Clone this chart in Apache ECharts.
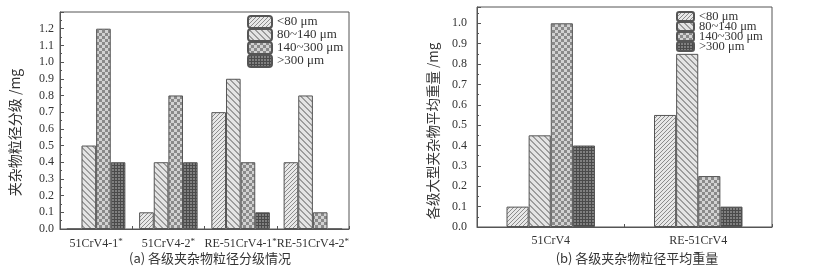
<!DOCTYPE html>
<html>
<head>
<meta charset="utf-8">
<script src="https://cdn.jsdelivr.net/npm/echarts@6/dist/echarts.min.js"></script>
<style>
  html, body { margin: 0; padding: 0; background: #fff; }
  #main { width: 818px; height: 270px; }
</style>
</head>
<body>
<div id="main"></div>
<script>
// data
var sizeNames = ['<80 μm', '80~140 μm', '140~300 μm', '>300 μm'];

var catsA = ['51CrV4-1*', '51CrV4-2*', 'RE-51CrV4-1*', 'RE-51CrV4-2*'];
var lt80A = [0, 0.1, 0.7, 0.4];
var s80to140A = [0.5, 0.4, 0.9, 0.8];
var s140to300A = [1.2, 0.8, 0.4, 0.1];
var gt300A = [0.4, 0.4, 0.1, 0];

var catsB = ['51CrV4', 'RE-51CrV4'];
var lt80B = [0.1, 0.55];
var s80to140B = [0.45, 0.85];
var s140to300B = [1.0, 0.25];
var gt300B = [0.4, 0.1];

var yMaxA = 1.3, yMaxB = 1.08, yStep = 0.1;

var serif = '"Liberation Serif", "DejaVu Serif", serif';
var cjk = '"Noto Sans CJK SC", sans-serif';

// small tiled fills for the hatched bars
function makePattern(size, bg, fg, test) {
  var c = document.createElement('canvas');
  c.width = size; c.height = size;
  var ctx = c.getContext('2d');
  ctx.fillStyle = bg;
  ctx.fillRect(0, 0, size, size);
  ctx.fillStyle = fg;
  for (var y = 0; y < size; y++) {
    for (var x = 0; x < size; x++) {
      if (test(x, y)) ctx.fillRect(x, y, 1, 1);
    }
  }
  return { image: c, repeat: 'repeat' };
}
var fills = [
  makePattern(4, '#e8e8e8', '#8c8c8c', function (x, y) { return (x + y) % 4 < 1; }),
  makePattern(6, '#e4e4e4', '#9c9c9c', function (x, y) { return (x - y + 60) % 6 < 2; }),
  makePattern(6, '#d2d2d2', '#8a8a8a', function (x, y) { return (Math.floor(x / 3) + Math.floor(y / 3)) % 2 === 0; }),
  makePattern(3, '#808080', '#4a4a4a', function (x, y) { return x % 3 === 0 || y % 3 === 0; })
];

var chart = echarts.init(document.getElementById('main'));

function catLabel(v) {
  if (v.charAt(v.length - 1) === '*') return v.slice(0, -1) + '{sup|*}';
  return v;
}

function yAxisCfg(idx, max, name, gap, margin, nameSize, shift) {
  return {
    type: 'value', gridIndex: idx, min: 0, max: max, interval: yStep,
    name: name, nameLocation: 'middle', nameRotate: 90, nameGap: gap,
    nameTextStyle: { fontFamily: cjk, fontSize: nameSize, color: '#333', padding: [0, shift, 0, 0] },
    axisLine: { show: true, lineStyle: { color: '#555' } },
    axisTick: { show: true, inside: true, length: 4, lineStyle: { color: '#555' } },
    minorTick: { show: true, splitNumber: 2, length: 2, lineStyle: { color: '#555' } },
    splitLine: { show: false },
    axisLabel: {
      fontFamily: serif, fontSize: 12, color: '#333', margin: margin, showMaxLabel: false,
      formatter: function (v) { return v.toFixed(1); }
    }
  };
}

function xAxisCfg(idx, data) {
  return {
    type: 'category', gridIndex: idx, data: data,
    axisLine: { lineStyle: { color: '#555' } },
    axisTick: { show: true, inside: true, length: 3, lineStyle: { color: '#555' } },
    axisLabel: {
      fontFamily: serif, fontSize: 12, color: '#333', margin: 8, interval: 0,
      formatter: catLabel,
      rich: { sup: { fontFamily: serif, fontSize: 9, color: '#333', verticalAlign: 'top', padding: [0, 0, 4, 0] } }
    }
  };
}

function barSeries(idx, name, data, fill, gapCat) {
  return {
    type: 'bar', name: name, xAxisIndex: idx, yAxisIndex: idx, data: data,
    barGap: '0%', barCategoryGap: gapCat,
    itemStyle: { color: fill, borderColor: '#555', borderWidth: 1 }
  };
}

var option = {
  animation: false,
  backgroundColor: '#fff',
  title: [
    { text: '(a) 各级夹杂物粒径分级情况', left: 205, top: 247, textAlign: 'center',
      textStyle: { fontFamily: cjk, fontSize: 13, fontWeight: 'normal', color: '#333' } },
    { text: '(b) 各级夹杂物粒径平均重量', left: 632, top: 247, textAlign: 'center',
      textStyle: { fontFamily: cjk, fontSize: 13, fontWeight: 'normal', color: '#333' } }
  ],
  legend: [
    { orient: 'vertical', left: 242, top: 10, itemWidth: 24, itemHeight: 12, itemGap: -1,
      data: sizeNames, selectedMode: false,
      textStyle: { fontFamily: serif, fontSize: 13, lineHeight: 13, color: '#333' } },
    { orient: 'vertical', left: 671, top: 5, itemWidth: 17, itemHeight: 9, itemGap: -3,
      data: sizeNames, selectedMode: false,
      textStyle: { fontFamily: serif, fontSize: 12.5, lineHeight: 10, color: '#333' } }
  ],
  grid: [
    { left: 60, right: 469, top: 12, bottom: 41, show: true, borderColor: '#555', borderWidth: 1 },
    { left: 477, right: 46, top: 7, bottom: 43, show: true, borderColor: '#555', borderWidth: 1 }
  ],
  xAxis: [xAxisCfg(0, catsA), xAxisCfg(1, catsB)],
  yAxis: [
    yAxisCfg(0, yMaxA, '夹杂物粒径分级 /mg', 38, 6, 14, 24),
    yAxisCfg(1, yMaxB, '各级大型夹杂物平均重量 /mg', 37, 10, 13.5, 28)
  ],
  series: [
    barSeries(0, sizeNames[0], lt80A, fills[0], '19%'),
    barSeries(0, sizeNames[1], s80to140A, fills[1], '19%'),
    barSeries(0, sizeNames[2], s140to300A, fills[2], '19%'),
    barSeries(0, sizeNames[3], gt300A, fills[3], '19%'),
    barSeries(1, sizeNames[0], lt80B, fills[0], '40%'),
    barSeries(1, sizeNames[1], s80to140B, fills[1], '40%'),
    barSeries(1, sizeNames[2], s140to300B, fills[2], '40%'),
    barSeries(1, sizeNames[3], gt300B, fills[3], '40%')
  ]
};
chart.setOption(option);
</script>
</body>
</html>
